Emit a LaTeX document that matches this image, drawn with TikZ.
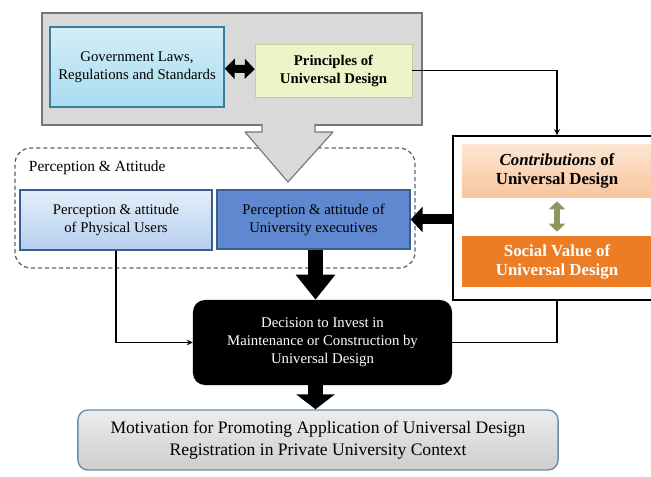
\documentclass[tikz,border=0pt]{standalone}
\usepackage{fontspec}
\setmainfont{Liberation Serif}
\usetikzlibrary{arrows.meta}
\definecolor{framegray}{HTML}{D9D9D9}
\definecolor{frameedge}{HTML}{767676}
\definecolor{govtop}{HTML}{D3EEF8}
\definecolor{govbot}{HTML}{A9DCF0}
\definecolor{govedge}{HTML}{3D7C9C}
\definecolor{prinfill}{HTML}{EEF3C8}
\definecolor{prinedge}{HTML}{C5CE98}
\definecolor{dashedge}{HTML}{56637F}
\definecolor{userstop}{HTML}{E4EEFA}
\definecolor{usersbot}{HTML}{B5CFEE}
\definecolor{blueedge}{HTML}{3C5D92}
\definecolor{execfill}{HTML}{5F88D0}
\definecolor{contribtop}{HTML}{FDE6D3}
\definecolor{contribbot}{HTML}{F8C59C}
\definecolor{socialfill}{HTML}{EC7D25}
\definecolor{olivearrow}{HTML}{8B9A5C}
\definecolor{motivtop}{HTML}{EDEDED}
\definecolor{motivbot}{HTML}{CDCDCD}
\definecolor{motivedge}{HTML}{6D8CA8}
\begin{document}
\begin{tikzpicture}[x=0.025cm, y=-0.025cm, >=stealth,
  box/.style={rectangle, align=center, inner sep=2pt, font=\fontsize{10.5}{12.8}\selectfont},
  bigarrow/.style={line width=0.375cm, -{Triangle[width=0.95cm, length=#1]}},
  thin/.style={line width=0.9pt}]
\useasboundingbox (0,0) rectangle (651,477);

% top frame
\node[draw=frameedge, line width=1.3pt, fill=framegray, minimum width=9.5cm, minimum height=2.8cm] (lawsframe) at (232,69) {};
\node[box, draw=govedge, line width=1pt, top color=govtop, bottom color=govbot, minimum width=4.35cm, minimum height=2cm] (gov) at (137,67) {Government Laws,\\Regulations and Standards};
\node[box, draw=prinedge, fill=prinfill, minimum width=3.925cm, minimum height=1.325cm, font=\fontsize{10.5}{12.8}\selectfont\bfseries] (principles) at (333.5,70.5) {Principles of\\Universal Design};
\draw[line width=0.2cm, {Triangle[width=0.5cm, length=0.25cm]}-{Triangle[width=0.5cm, length=0.25cm]}] (gov) -- (principles);

% perception & attitude
\node[draw=dashedge, dash pattern=on 3pt off 2pt, line width=0.9pt, rounded corners=0.4cm, minimum width=10cm, minimum height=3cm] (perception) at (215,208) {};
\node[anchor=west, font=\fontsize{11}{13}\selectfont] (perclabel) at (24,168) {Perception \& Attitude};
\node[box, draw=blueedge, line width=0.9pt, top color=userstop, bottom color=usersbot, minimum width=4.8cm, minimum height=1.5cm] (users) at (116,220) {Perception \& attitude\\of Physical Users};
\node[box, draw=blueedge, line width=0.9pt, fill=execfill, minimum width=4.825cm, minimum height=1.475cm] (exec) at (313.5,219.5) {Perception \& attitude of\\University executives};

% big gray arrow
\fill[framegray] (262,121) -- (262,132) -- (245,132) -- (288,182) -- (333,132) -- (315,132) -- (315,121) -- cycle;
\draw[frameedge, line width=0.8pt, line join=round] (262,124) -- (262,132) -- (245,132) -- (288,182) -- (333,132) -- (315,132) -- (315,124);

% right frame
\node[draw, line width=1.2pt, fill=white, minimum width=5.5cm, minimum height=4.1cm] (valueframe) at (563,218) {};
\node[box, top color=contribtop, bottom color=contribbot, minimum width=4.75cm, minimum height=1.3cm, font=\fontsize{12}{13.5}\selectfont\bfseries] (contrib) at (557,171) {\textit{Contributions} of\\Universal Design};
\node[box, fill=socialfill, text=white, minimum width=4.75cm, minimum height=1.275cm, font=\fontsize{12}{13.5}\selectfont\bfseries] (social) at (557,261.5) {Social Value of\\Universal Design};
\draw[olivearrow, line width=0.17cm, {Triangle[width=0.4cm, length=0.2cm]}-{Triangle[width=0.4cm, length=0.2cm]}] ([yshift=-0.1cm]contrib.south) -- ([yshift=0.1cm]social.north);

% decision and motivation
\node[box, fill=black, text=white, rounded corners=0.3cm, minimum width=6.475cm, minimum height=2.125cm] (decision) at (322.5,342.5) {Decision to Invest in\\Maintenance or Construction by\\Universal Design};
\node[box, draw=motivedge, line width=1pt, top color=motivtop, bottom color=motivbot, rounded corners=0.25cm, minimum width=12cm, minimum height=1.5cm, font=\fontsize{12.5}{15.5}\selectfont] (motivation) at (318,440) {Motivation for Promoting Application of Universal Design\\Registration in Private University Context};

% connectors
\draw[thin, ->] (principles.east) -| (contrib.north |- valueframe.north);
\draw[line width=0.25cm, -{Triangle[width=0.625cm, length=0.3cm]}] (valueframe.west |- exec.east) -- (exec.east);
\draw[bigarrow=0.625cm] ([xshift=0.05cm]exec.south) -- ([xshift=0.05cm]exec.south |- decision.north);
\draw[thin, ->] (users.south) |- (decision.west);
\draw[thin] (contrib.south |- valueframe.south) |- (decision.east);
\draw[bigarrow=0.375cm] ([xshift=0.05cm]exec.south |- decision.south) -- ([xshift=0.05cm]exec.south |- motivation.north);
\end{tikzpicture}
\end{document}
